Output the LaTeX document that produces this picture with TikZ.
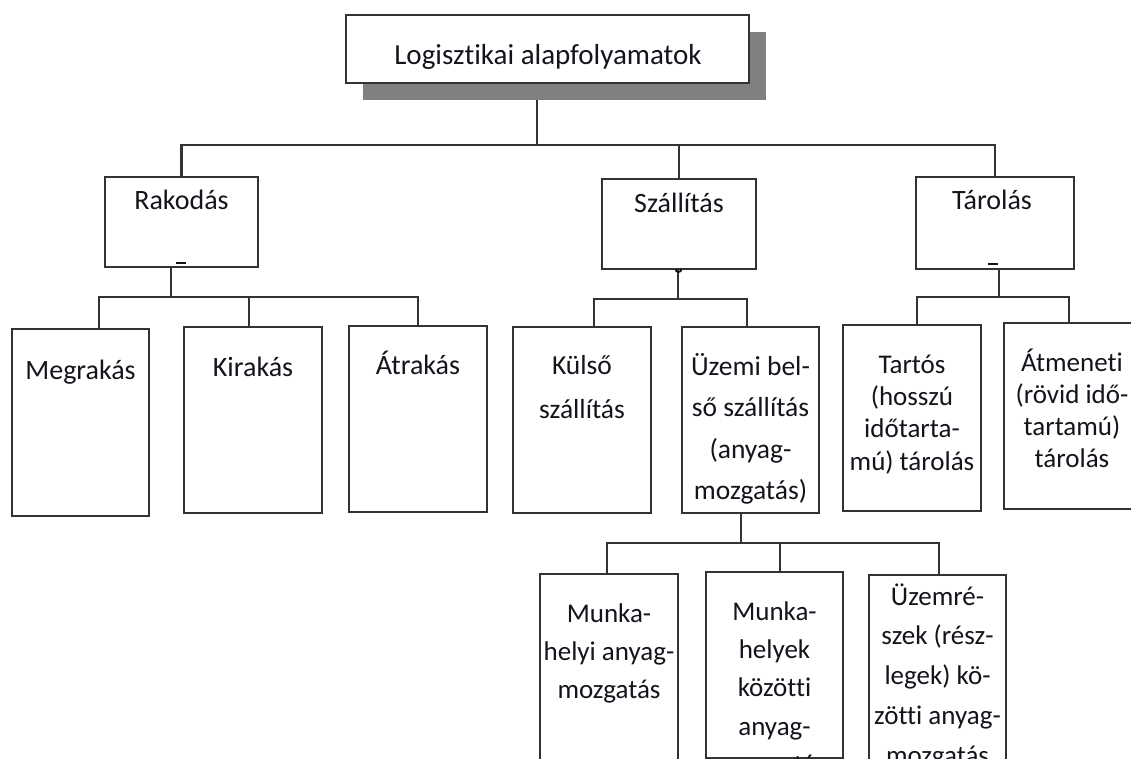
\documentclass[tikz,border=0pt]{standalone}
\usepackage{fontspec}
\setmainfont{Carlito}[Ligatures={NoCommon}]
\usetikzlibrary{shadows,calc}
\pgfdeclarelayer{background}
\pgfsetlayers{background,main}
\definecolor{linec}{HTML}{333333}
\definecolor{tcol}{HTML}{14141C}
\definecolor{shadowgray}{HTML}{808080}
\newcommand\lnstrut{\rule{0pt}{25pt}}
\tikzset{
  box/.style={draw=linec, line width=2pt, fill=white, inner sep=0pt},
  conn/.style={draw=linec, line width=2.2pt},
  txt/.style={inner sep=0pt, anchor=north, align=center, text=tcol,
              font=\fontsize{28}{32}\selectfont},
  inkmark/.style={draw=tcol, line width=2.6pt}
}
\begin{document}
\begin{tikzpicture}[x=1pt, y=-1pt]
\useasboundingbox (0,0) rectangle (1131,758);
\clip (0,0) rectangle (1131,758);

% root box with its grey drop shadow
\node[box, minimum width=403pt, minimum height=68pt,
      drop shadow={shadow xshift=17pt, shadow yshift=-17pt, fill=shadowgray, opacity=1}]
      (root) at (547.5,49) {};
\node[txt, font=\fontsize{29}{32}\selectfont] (root-t) at (548,39) {\lnstrut Logisztikai alapfolyamatok};

% second level
\node[box, minimum width=153pt, minimum height=90pt] (rak) at (181.5,222) {};
\node[box, minimum width=154pt, minimum height=90pt] (szal) at (679,224) {};
\node[box, minimum width=158pt, minimum height=92pt] (tar) at (995,223) {};
\node[txt] (rak-t)  at (181.5,184) {\lnstrut Rakodás};
\node[txt] (szal-t) at (679,187)   {\lnstrut Szállítás};
\node[txt] (tar-t)  at (992,184)   {\lnstrut Tárolás};

% third level
\node[box, minimum width=137pt, minimum height=187pt] (meg) at (80.5,422.5) {};
\node[box, minimum width=138pt, minimum height=186pt] (kir) at (253,420) {};
\node[box, minimum width=138pt, minimum height=186pt] (atr) at (418,419) {};
\node[box, minimum width=138pt, minimum height=186pt] (kul) at (582,420) {};
\node[box, minimum width=137pt, minimum height=186pt] (uzb) at (750.5,420) {};
\node[box, minimum width=138pt, minimum height=186pt] (tart) at (912,418) {};
\node[box, minimum width=138pt, minimum height=186pt] (atm) at (1073,416) {};

\node[txt] (meg-t) at (80.5,354) {\lnstrut Megrakás};
\node[txt] (kir-t) at (253,351)  {\lnstrut Kirakás};
\node[txt] (atr-t) at (418,349)  {\lnstrut Átrakás};
\node[txt, font=\fontsize{27.5}{44}\selectfont] (kul-t) at (582,349)
  {\lnstrut Külső\\szállítás};
\node[txt, font=\fontsize{27.5}{41.5}\selectfont] (uzb-t) at (750.5,350)
  {\lnstrut Üzemi bel-\\ső szállítás\\(anyag-\\mozgatás)};
\node[txt, font=\fontsize{27}{32.3}\selectfont] (tart-t) at (912,348)
  {\lnstrut Tartós\\(hosszú\\időtarta-\\mú) tárolás};
\node[txt, font=\fontsize{27}{32}\selectfont] (atm-t) at (1072,346)
  {\lnstrut Átmeneti\\(rövid idő-\\tartamú)\\tárolás};

% fourth level
\node[box, minimum width=138pt, minimum height=186pt] (mh1) at (609,667) {};
\node[box, minimum width=137pt, minimum height=186pt] (mh2) at (774.5,665) {};
\node[box, minimum width=137pt, minimum height=186pt] (uzr) at (937.5,668) {};
\node[txt, font=\fontsize{27}{38}\selectfont] (mh1-t) at (609,597)
  {\lnstrut Munka-\\helyi anyag-\\mozgatás};
\node[txt, font=\fontsize{27}{38.3}\selectfont] (mh2-t) at (774.5,595)
  {\lnstrut Munka-\\helyek\\közötti\\anyag-\\mozgatás};
\node[txt, font=\fontsize{27}{39.7}\selectfont] (uzr-t) at (937.5,580)
  {\lnstrut Üzemré-\\szek (rész-\\legek) kö-\\zötti anyag-\\mozgatás};

% bus points of the tree
\coordinate (b0) at (537,145);
\coordinate (br) at (171,297);
\coordinate (r1) at (99,297);
\coordinate (r2) at (249,297);
\coordinate (r3) at (418,297);
\coordinate (bs) at (678,299);
\coordinate (s1) at (594,299);
\coordinate (s2) at (747,299);
\coordinate (bt) at (999,297);
\coordinate (t1) at (917,297);
\coordinate (t2) at (1069,297);
\coordinate (bu) at (741,543);
\coordinate (u1) at (607,543);
\coordinate (u2) at (780,543);
\coordinate (u3) at (939,543);

\begin{pgfonlayer}{background}
  % root to second level
  \draw[conn] (root.south -| b0) -- (b0);
  \draw[conn] (rak.north) -- (rak.north |- b0) -- (tar.north |- b0) -- (tar.north);
  \draw[conn] (szal.north) -- (szal.north |- b0);
  % Rakodás branch
  \draw[conn] (rak.south -| br) -- (br);
  \draw[conn] (r1 |- meg.north) -- (r1) -- (r3) -- (r3 |- atr.north);
  \draw[conn] (r2) -- (r2 |- kir.north);
  % Szállítás branch
  \draw[conn] (szal.south -| bs) -- (bs);
  \draw[conn] (s1 |- kul.north) -- (s1) -- (s2) -- (s2 |- uzb.north);
  % Tárolás branch
  \draw[conn] (tar.south -| bt) -- (bt);
  \draw[conn] (t1 |- tart.north) -- (t1) -- (t2) -- (t2 |- atm.north);
  % Üzemi belső szállítás branch
  \draw[conn] (uzb.south -| bu) -- (bu);
  \draw[conn] (u1 |- mh1.north) -- (u1) -- (u3) -- (u3 |- uzr.north);
  \draw[conn] (u2) -- (u2 |- mh2.north);
\end{pgfonlayer}

% small ink marks on the lower edges of the second-level boxes
\coordinate (m1) at (181,263);
\coordinate (m3) at (993,264);
\coordinate (m2) at (678.5,269);
\draw[inkmark] ($(m1)+(-5,0)$) -- ($(m1)+(5,0)$);
\draw[inkmark] ($(m3)+(-5,0)$) -- ($(m3)+(5,0)$);
\draw[draw=tcol, line width=1.8pt] ($(m2)+(-3,0)$) arc (180:0:3);
\end{tikzpicture}
\end{document}
